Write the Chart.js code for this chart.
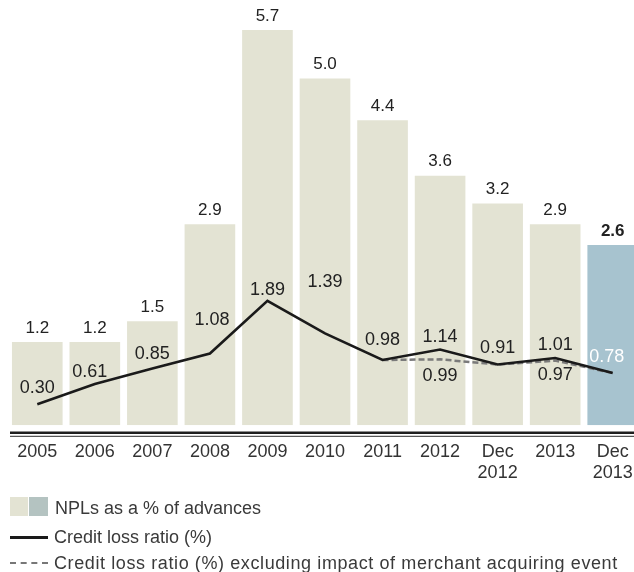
<!DOCTYPE html>
<html>
<head>
<meta charset="utf-8">
<script src="https://cdn.jsdelivr.net/npm/chart.js@4/dist/chart.umd.min.js"></script>
<style>
    html, body { margin: 0; padding: 0; background: #fff; overflow: hidden; width: 634px; height: 572px; }
    #wrap { position: relative; width: 634px; height: 572px; overflow: hidden; }
    #chart { position: absolute; left: 0; top: 0; }
    .legend-row { position: absolute; left: 0; width: 634px; height: 20px; font-family: "Liberation Sans", Arial, sans-serif; font-size: 18px; line-height: 20px; color: #3a3a3a; white-space: nowrap; }
    .legend-row span.txt { position: absolute; top: 0; }
    .sw { position: absolute; }
</style>
</head>
<body>
<div id="wrap">
    <canvas id="chart" width="650" height="500"></canvas>

    <div class="legend-row" style="top:498px">
        <div class="sw" style="left:10px; top:-1px; width:18px; height:19px; background:#e3e3d3"></div>
        <div class="sw" style="left:29px; top:-1px; width:19px; height:19px; background:#b4c3c1"></div>
        <span class="txt" style="left:55px">NPLs as a % of advances</span>
    </div>
    <div class="legend-row" style="top:527px">
        <div class="sw" style="left:10px; top:9px; width:38px; height:3px; background:#1a1a1a"></div>
        <span class="txt" style="left:54px">Credit loss ratio (%)</span>
    </div>
    <div class="legend-row" style="top:553px">
        <div class="sw" style="left:10px; top:9px; width:38px; height:0; border-top:2px dashed #777"></div>
        <span class="txt" style="left:54px; letter-spacing:0.6px">Credit loss ratio (%) excluding impact of merchant acquiring event</span>
    </div>
</div>

<script>
// ==================== DATA ====================

const categories = ['2005', '2006', '2007', '2008', '2009', '2010', '2011', '2012', ['Dec', '2012'], '2013', ['Dec', '2013']];
const nplValues = [1.2, 1.2, 1.5, 2.9, 5.7, 5.0, 4.4, 3.6, 3.2, 2.9, 2.6];
const creditLoss = [0.30, 0.61, 0.85, 1.08, 1.89, 1.39, 0.98, 1.14, 0.91, 1.01, 0.78];
const creditLossExcl = [null, null, null, null, null, null, 0.98, 0.99, 0.91, 0.97, 0.78];

// label offsets (px) from each point: [dx, dy]
const creditLabelOffsets = [[0, -16], [-5, -12], [0, -14], [2, -33], [0, -11], [0, -51], [0, -20], [0, -13], [0, -17], [0, -13], [-6, -16]];
const exclLabelOffsets = [null, null, null, null, null, null, null, [0, 17], null, [0, 14], null];

// ==================== STYLE ====================

const FONT = '"Liberation Sans", Arial, sans-serif';
const beige = '#e3e3d3';
const blue = '#a7c3cf';
const barColors = nplValues.map((v, i) => i === nplValues.length - 1 ? blue : beige);

Chart.defaults.font.family = FONT;
Chart.defaults.color = '#222';

// ==================== PLUGINS ====================

const doubleAxisLine = {
    id: 'doubleAxisLine',
    afterDraw(chart) {
        const { ctx, chartArea } = chart;
        const y = chartArea.bottom;
        ctx.save();
        ctx.strokeStyle = '#1e1e1e';
        ctx.lineWidth = 2.5;
        ctx.beginPath();
        ctx.moveTo(10, y + 7.5);
        ctx.lineTo(chart.width, y + 7.5);
        ctx.stroke();
        ctx.strokeStyle = '#555';
        ctx.lineWidth = 1.3;
        ctx.beginPath();
        ctx.moveTo(10, y + 11);
        ctx.lineTo(chart.width, y + 11);
        ctx.stroke();
        ctx.restore();
    }
};

const valueLabels = {
    id: 'valueLabels',
    afterDatasetsDraw(chart) {
        const ctx = chart.ctx;
        ctx.save();
        ctx.textAlign = 'center';
        ctx.textBaseline = 'middle';

        // bar labels
        chart.getDatasetMeta(0).data.forEach((bar, i) => {
            const last = i === nplValues.length - 1;
            ctx.font = (last ? 'bold ' : '') + '17px ' + FONT;
            ctx.fillStyle = '#222';
            ctx.fillText(nplValues[i].toFixed(1), bar.x, bar.y - 14);
        });

        ctx.font = '18px ' + FONT;

        // credit loss labels
        chart.getDatasetMeta(2).data.forEach((pt, i) => {
            const off = creditLabelOffsets[i];
            ctx.fillStyle = i === creditLoss.length - 1 ? '#fff' : '#222';
            ctx.fillText(creditLoss[i].toFixed(2), pt.x + off[0], pt.y + off[1]);
        });

        // excluding-event labels
        chart.getDatasetMeta(1).data.forEach((pt, i) => {
            const off = exclLabelOffsets[i];
            if (!off || creditLossExcl[i] === null) return;
            ctx.fillStyle = '#222';
            ctx.fillText(creditLossExcl[i].toFixed(2), pt.x + off[0], pt.y + off[1]);
        });

        ctx.restore();
    }
};

// ==================== CHART ====================

const ctx = document.getElementById('chart').getContext('2d');
const chart = new Chart(ctx, {
    type: 'bar',
    data: {
        labels: categories,
        datasets: [{
            type: 'bar',
            label: 'NPLs as a % of advances',
            data: nplValues,
            backgroundColor: barColors,
            borderWidth: 0,
            categoryPercentage: 1,
            barPercentage: 0.88,
            yAxisID: 'y',
            order: 3
        }, {
            type: 'line',
            label: 'Credit loss ratio (%) excluding impact of merchant acquiring event',
            data: creditLossExcl,
            borderColor: '#7a7a7a',
            borderWidth: 2.5,
            borderDash: [6, 3],
            pointRadius: 0,
            tension: 0,
            fill: false,
            clip: false,
            yAxisID: 'y2',
            order: 2
        }, {
            type: 'line',
            label: 'Credit loss ratio (%)',
            data: creditLoss,
            borderColor: '#1a1a1a',
            borderWidth: 2.6,
            pointRadius: 0,
            tension: 0,
            fill: false,
            clip: false,
            yAxisID: 'y2',
            order: 1
        }]
    },
    options: {
        responsive: false,
        animation: false,
        events: [],
        layout: {
            padding: { top: 30, left: 6.5, right: 7.7, bottom: 0 }
        },
        plugins: {
            legend: { display: false },
            tooltip: { enabled: false }
        },
        scales: {
            x: {
                offset: true,
                grid: { display: false, drawTicks: false },
                border: { display: false },
                ticks: {
                    padding: 17,
                    maxRotation: 0,
                    autoSkip: false,
                    color: '#333',
                    font: { size: 18, lineHeight: 1.13 }
                }
            },
            y: {
                display: false,
                min: 0,
                max: 5.7
            },
            y2: {
                display: false,
                min: -0.025,
                max: 6.056
            }
        }
    },
    plugins: [doubleAxisLine, valueLabels]
});
</script>
</body>
</html>
